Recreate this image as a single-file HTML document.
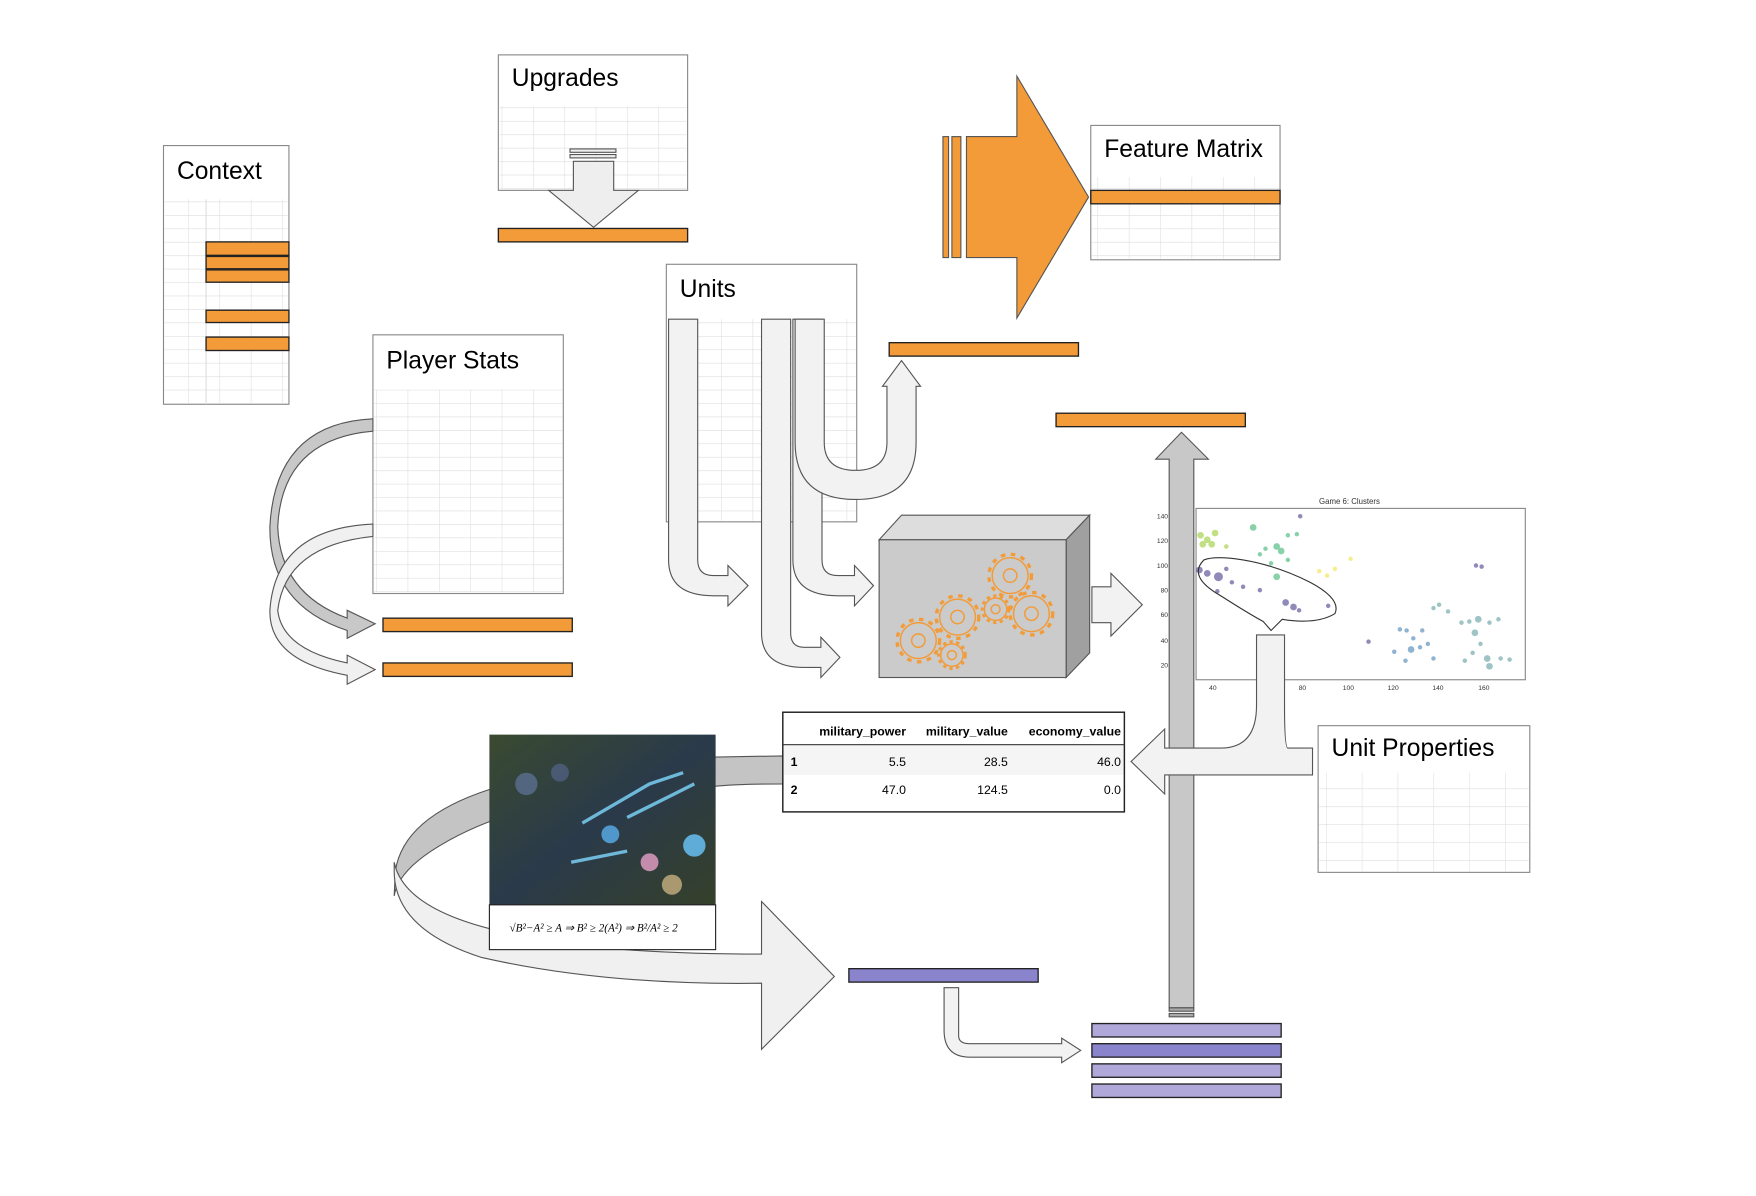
<!DOCTYPE html>
<html><head><meta charset="utf-8"><style>html,body{margin:0;padding:0;background:#fff}svg{display:block}</style></head>
<body>
<svg width="1756" height="1196" viewBox="0 0 1568 1068" preserveAspectRatio="none" xmlns="http://www.w3.org/2000/svg" font-family="Liberation Sans, sans-serif">
<defs>
<pattern id="grid" width="28" height="12" patternUnits="userSpaceOnUse"><path d="M0 0H28M0 0V12" stroke="#ddd" stroke-width="1" fill="none"/></pattern>
<pattern id="grid2" width="32" height="16" patternUnits="userSpaceOnUse"><path d="M0 0H32M0 0V16" stroke="#ddd" stroke-width="1" fill="none"/></pattern>
<linearGradient id="game" x1="0" y1="0" x2="1" y2="1"><stop offset="0" stop-color="#3a4a30"/><stop offset="0.5" stop-color="#2a3a4a"/><stop offset="1" stop-color="#35402a"/></linearGradient>
</defs>

<!-- Context -->
<rect x="146" y="130" width="112" height="231" fill="#fff" stroke="#888"/>
<rect x="147" y="178" width="110" height="182" fill="url(#grid)"/>
<line x1="184" y1="178" x2="184" y2="361" stroke="#ddd"/>
<text x="158" y="160" font-size="22">Context</text>
<g fill="#f29b38" stroke="#222" stroke-width="1.2">
<rect x="184" y="216" width="74" height="12"/><rect x="184" y="229" width="74" height="11"/><rect x="184" y="241" width="74" height="11"/><rect x="184" y="277" width="74" height="11"/><rect x="184" y="301" width="74" height="12"/>
</g>

<!-- Upgrades -->
<rect x="445" y="49" width="169" height="121" fill="#fff" stroke="#888"/>
<rect x="446" y="95" width="167" height="74" fill="url(#grid)"/>
<text x="457" y="77" font-size="22">Upgrades</text>
<g fill="#eee" stroke="#555">
<rect x="509" y="133" width="41" height="3"/><rect x="509" y="138" width="41" height="3"/>
<path d="M512 144H548V170H570L530 203L490 170H512Z"/>
</g>
<rect x="445" y="204" width="169" height="12" fill="#f29b38" stroke="#222" stroke-width="1.2"/>

<!-- Feature Matrix -->
<g fill="#f29b38" stroke="#555">
<rect x="842" y="122" width="5" height="108"/><rect x="850" y="122" width="8" height="108"/>
<path d="M863 122H908V68L972 176L908 284V230H863Z"/>
</g>
<rect x="974" y="112" width="169" height="120" fill="#fff" stroke="#888"/>
<rect x="975" y="158" width="167" height="73" fill="url(#grid)"/>
<rect x="974" y="170" width="169" height="12" fill="#f29b38" stroke="#222" stroke-width="1.2"/>
<text x="986" y="140" font-size="22">Feature Matrix</text>

<!-- Units -->
<rect x="595" y="236" width="170" height="230" fill="#fff" stroke="#888"/>
<rect x="623" y="285" width="141" height="180" fill="url(#grid)"/>
<text x="607" y="265" font-size="22">Units</text>
<g fill="#f2f2f2" stroke="#555">
<path d="M597 285H623V500Q623 514 637 514H650V505L668 523L650 541V532H637Q597 532 597 500Z"/>
<path d="M680 285H706V565Q706 578 718 578H733V569L750 587L733 605V596H718Q680 596 680 565Z"/>
<path d="M708 285H734V500Q734 514 748 514H763V505L780 523L763 541V532H748Q708 532 708 500Z"/>
<path d="M710 285H736V395Q736 420 764 420Q792 420 792 395V345H788L805 322L822 345H818V395Q818 446 764 446Q710 446 710 395Z"/>
</g>
<rect x="794" y="306" width="169" height="12" fill="#f29b38" stroke="#222" stroke-width="1.2"/>
<rect x="943" y="369" width="169" height="12" fill="#f29b38" stroke="#222" stroke-width="1.2"/>

<!-- Player Stats -->
<rect x="333" y="299" width="170" height="231" fill="#fff" stroke="#888"/>
<rect x="334" y="348" width="168" height="181" fill="url(#grid)"/>
<text x="345" y="329" font-size="22">Player Stats</text>
<g stroke="#555">
<path d="M333 374V385Q252 392 248 470Q250 530 310 552V545L335 557L310 570V563Q240 540 241 470Q246 378 333 374Z" fill="#c8c8c8"/>
<path d="M333 468V479Q255 487 248 545Q252 580 310 592V585L335 598L310 611V603Q240 590 241 545Q246 472 333 468Z" fill="#f0f0f0"/>
</g>
<rect x="342" y="552" width="169" height="12" fill="#f29b38" stroke="#222" stroke-width="1.2"/>
<rect x="342" y="592" width="169" height="12" fill="#f29b38" stroke="#222" stroke-width="1.2"/>

<!-- vertical gray arrow -->
<g fill="#c8c8c8" stroke="#555">
<path d="M1044 410H1032L1055 386L1079 410H1066V900H1044Z"/>
<rect x="1044" y="900" width="22" height="3" fill="#aaa"/><rect x="1044" y="905" width="22" height="3" fill="#aaa"/>
</g>

<!-- gear box -->
<g stroke="#555">
<polygon points="785,482 805,460 973,460 952,482" fill="#ddd"/>
<polygon points="952,482 973,460 973,583 952,605" fill="#a0a0a0"/>
<rect x="785" y="482" width="167" height="123" fill="#cbcbcb"/>
</g>
<g fill="none" stroke="#f29b38" stroke-width="1.3">
<g transform="translate(902,514)"><circle r="19" stroke-dasharray="4 5" stroke-width="3"/><circle r="16"/><circle r="6"/></g>
<g transform="translate(855,551)"><circle r="19" stroke-dasharray="4 5" stroke-width="3"/><circle r="16"/><circle r="6"/></g>
<g transform="translate(921,548)"><circle r="19" stroke-dasharray="4 5" stroke-width="3"/><circle r="16"/><circle r="6"/></g>
<g transform="translate(820,572)"><circle r="19" stroke-dasharray="4 5" stroke-width="3"/><circle r="16"/><circle r="6"/></g>
<g transform="translate(889,544)"><circle r="12" stroke-dasharray="3 3" stroke-width="2.5"/><circle r="10"/><circle r="4"/></g>
<g transform="translate(850,585)"><circle r="12" stroke-dasharray="3 3" stroke-width="2.5"/><circle r="10"/><circle r="4"/></g>
</g>
<path d="M975 524H992V512L1020 540L992 568V556H975Z" fill="#f2f2f2" stroke="#555"/>

<!-- scatter -->
<text x="1205" y="450" font-size="7" fill="#333" text-anchor="middle">Game 6: Clusters</text>
<rect x="1068" y="454" width="294" height="153" fill="#fff" stroke="#888"/>
<g font-size="6" fill="#333" text-anchor="end">
<text x="1043" y="463">140</text><text x="1043" y="485">120</text><text x="1043" y="507">100</text><text x="1043" y="529">80</text><text x="1043" y="551">60</text><text x="1043" y="574">40</text><text x="1043" y="596">20</text>
</g>
<g font-size="6" fill="#333" text-anchor="middle">
<text x="1083" y="616">40</text><text x="1163" y="616">80</text><text x="1204" y="616">100</text><text x="1244" y="616">120</text><text x="1284" y="616">140</text><text x="1325" y="616">160</text>
</g>
<g opacity="0.6">
<g fill="#9acd32"><circle cx="1072" cy="478" r="3"/><circle cx="1078" cy="482" r="3"/><circle cx="1085" cy="476" r="3"/><circle cx="1074" cy="486" r="3"/><circle cx="1082" cy="486" r="3"/><circle cx="1095" cy="488" r="2"/></g>
<g fill="#3cb371"><circle cx="1119" cy="471" r="3"/><circle cx="1140" cy="488" r="3"/><circle cx="1144" cy="492" r="3"/><circle cx="1130" cy="490" r="2"/><circle cx="1150" cy="478" r="2"/><circle cx="1158" cy="477" r="2"/><circle cx="1135" cy="503" r="2"/><circle cx="1150" cy="500" r="2"/><circle cx="1140" cy="515" r="3"/><circle cx="1125" cy="495" r="2"/></g>
<g fill="#f0e442"><circle cx="1178" cy="510" r="2"/><circle cx="1185" cy="514" r="2"/><circle cx="1192" cy="508" r="2"/><circle cx="1206" cy="499" r="2"/></g>
<g fill="#483d8b"><circle cx="1071" cy="509" r="3"/><circle cx="1078" cy="512" r="3"/><circle cx="1088" cy="515" r="4"/><circle cx="1095" cy="508" r="2"/><circle cx="1100" cy="520" r="2"/><circle cx="1110" cy="524" r="2"/><circle cx="1087" cy="528" r="2"/><circle cx="1125" cy="527" r="2"/><circle cx="1148" cy="538" r="3"/><circle cx="1155" cy="542" r="3"/><circle cx="1160" cy="545" r="2"/><circle cx="1186" cy="541" r="2"/><circle cx="1161" cy="461" r="2"/><circle cx="1318" cy="505" r="2"/><circle cx="1323" cy="506" r="2"/><circle cx="1222" cy="573" r="2"/></g>
<g fill="#5f9ea0"><circle cx="1280" cy="543" r="2"/><circle cx="1285" cy="540" r="2"/><circle cx="1293" cy="546" r="2"/><circle cx="1305" cy="556" r="2"/><circle cx="1312" cy="555" r="2"/><circle cx="1320" cy="553" r="3"/><circle cx="1330" cy="556" r="2"/><circle cx="1338" cy="553" r="2"/><circle cx="1317" cy="565" r="3"/><circle cx="1322" cy="575" r="2"/><circle cx="1315" cy="583" r="2"/><circle cx="1328" cy="588" r="3"/><circle cx="1330" cy="595" r="3"/><circle cx="1340" cy="588" r="2"/><circle cx="1348" cy="589" r="2"/><circle cx="1308" cy="590" r="2"/></g>
<g fill="#4682b4"><circle cx="1250" cy="562" r="2"/><circle cx="1256" cy="563" r="2"/><circle cx="1262" cy="570" r="2"/><circle cx="1270" cy="563" r="2"/><circle cx="1260" cy="580" r="3"/><circle cx="1268" cy="578" r="2"/><circle cx="1275" cy="575" r="2"/><circle cx="1245" cy="582" r="2"/><circle cx="1255" cy="590" r="2"/><circle cx="1280" cy="588" r="2"/></g>
</g>
<path d="M1075 500Q1060 515 1090 532Q1115 548 1128 555L1135 563L1145 553Q1175 558 1192 548Q1198 535 1170 520Q1140 505 1110 500Q1085 496 1075 500Z" fill="none" stroke="#333" stroke-width="1"/>

<!-- unit properties -->
<rect x="1177" y="648" width="189" height="131" fill="#fff" stroke="#888"/>
<rect x="1178" y="690" width="187" height="88" fill="url(#grid2)"/>
<text x="1189" y="675" font-size="22">Unit Properties</text>
<path d="M1172 668V692H1060Q1040 692 1040 692V709L1010 680L1040 651V668H1090Q1122 668 1122 630V567H1147V630Q1147 668 1150 668Z" fill="#f2f2f2" stroke="#555"/>

<!-- big gray loop arrow -->
<path d="M700 675V700Q660 700 639 702Q470 704 385 760Q355 780 352 800L353 778Q360 730 437 705Q520 678 639 676Z" fill="#c4c4c4" stroke="#555"/>
<path d="M352 778Q352 830 430 855Q540 880 680 878V937L745 872L680 805V852Q520 852 440 830Q360 810 352 770Z" fill="#f0f0f0" stroke="#555"/>

<!-- game image -->
<rect x="437" y="656" width="202" height="152" fill="url(#game)"/>
<g opacity="0.8">
<path d="M520 735L580 700L610 690M560 730L600 710L620 700M510 770L560 760" stroke="#7fd8ff" stroke-width="3" fill="none"/>
<circle cx="620" cy="755" r="10" fill="#6ac8ff"/><circle cx="545" cy="745" r="8" fill="#5ab0ee"/><circle cx="580" cy="770" r="8" fill="#e8a0c8"/><circle cx="470" cy="700" r="10" fill="#5a7090"/><circle cx="500" cy="690" r="8" fill="#506080"/><circle cx="600" cy="790" r="9" fill="#c8b080"/>
</g>
<rect x="437" y="808" width="202" height="40" fill="#fff" stroke="#222"/>
<text x="455" y="832" font-size="10" font-family="Liberation Serif, serif" font-style="italic">√B²−A² ≥ A ⇒ B² ≥ 2(A²) ⇒ B²/A² ≥ 2</text>

<!-- table -->
<rect x="699" y="636" width="305" height="89" fill="#fff" stroke="#222" stroke-width="1.3"/>
<line x1="699" y1="665" x2="1004" y2="665" stroke="#333"/>
<rect x="700" y="666" width="303" height="26" fill="#f5f5f5"/>
<g font-size="11" font-weight="bold" text-anchor="end">
<text x="809" y="657">military_power</text><text x="900" y="657">military_value</text><text x="1001" y="657">economy_value</text>
</g>
<g font-size="11" text-anchor="end">
<text x="706" y="684" text-anchor="start" font-weight="bold">1</text><text x="809" y="684">5.5</text><text x="900" y="684">28.5</text><text x="1001" y="684">46.0</text>
<text x="706" y="709" text-anchor="start" font-weight="bold">2</text><text x="809" y="709">47.0</text><text x="900" y="709">124.5</text><text x="1001" y="709">0.0</text>
</g>

<!-- purple -->
<rect x="758" y="865" width="169" height="12" fill="#8a84cc" stroke="#222" stroke-width="1.2"/>
<path d="M843 882H856V925Q856 932 866 932H948V927L965 938L948 949V944H866Q843 944 843 920Z" fill="#f2f2f2" stroke="#555"/>
<g stroke="#222" stroke-width="1.2">
<rect x="975" y="914" width="169" height="12" fill="#b0a8d8"/>
<rect x="975" y="932" width="169" height="12" fill="#8a84cc"/>
<rect x="975" y="950" width="169" height="12" fill="#b0a8d8"/>
<rect x="975" y="968" width="169" height="12" fill="#b0a8d8"/>
</g>
</svg>
</body></html>
